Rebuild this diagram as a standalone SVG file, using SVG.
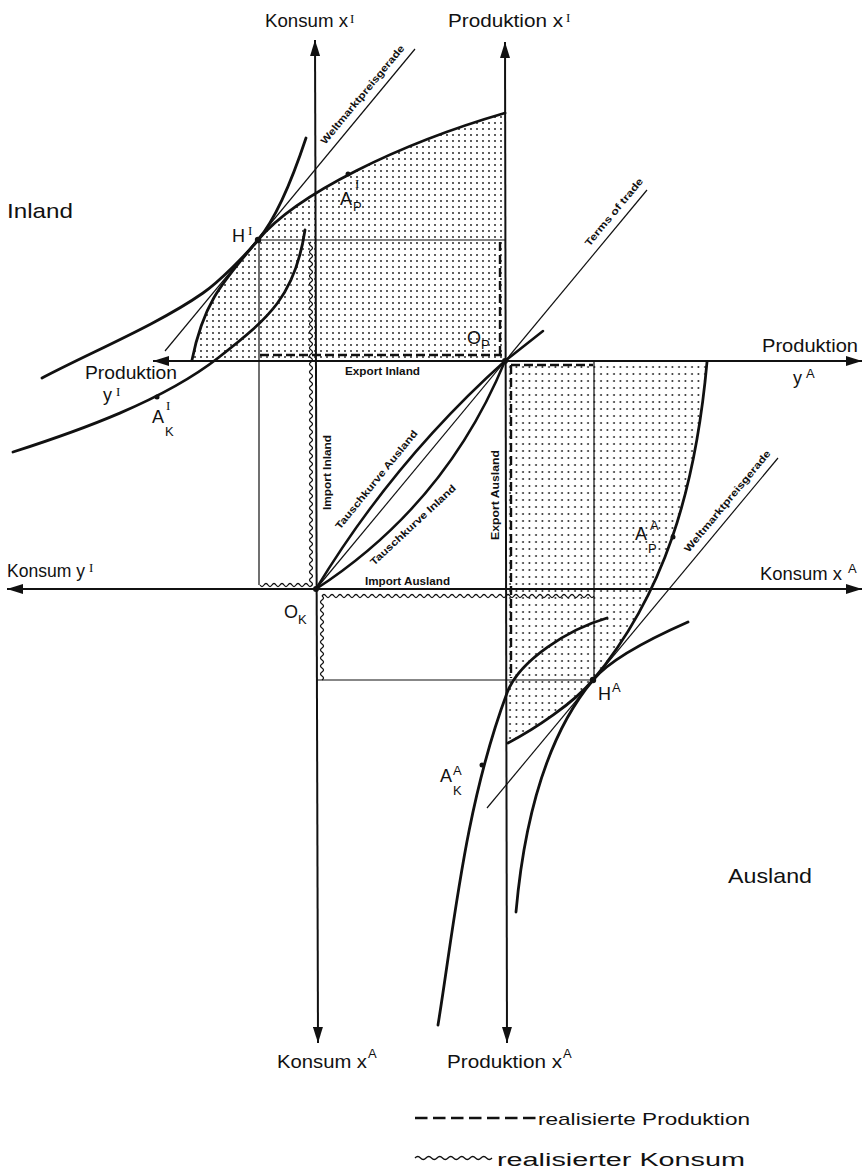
<svg xmlns="http://www.w3.org/2000/svg" width="867" height="1173" viewBox="0 0 867 1173">
<defs>
<style>
.ax{stroke:#111;stroke-width:2;fill:none}
.thick{stroke:#111;stroke-width:2.8;fill:none;stroke-linecap:round}
.tk{stroke:#111;stroke-width:2.5;fill:none;stroke-linecap:round}
.thin{stroke:#111;stroke-width:1.2;fill:none}
.dash{stroke:#111;stroke-width:2.4;fill:none;stroke-dasharray:9 4}
.wave{stroke:#111;stroke-width:1.3;fill:none}
.pt{fill:#111}
text{font-family:"Liberation Sans",Arial,sans-serif;fill:#111}
.lb{font-size:18px}
.big{font-size:21px}
.sup{font-size:13px}
.ser{font-family:"Liberation Serif","Times New Roman",serif}
.sm{font-size:10px;font-weight:bold}
</style>
<pattern id="dotsI" width="6" height="6" patternUnits="userSpaceOnUse"><circle cx="3" cy="3" r="0.9" fill="#111"/></pattern>
<pattern id="dotsA" width="6.5" height="7" patternUnits="userSpaceOnUse"><circle cx="3" cy="3" r="0.9" fill="#111"/></pattern>
<marker id="arr" viewBox="0 0 16 10" refX="16" refY="5" markerWidth="16" markerHeight="10" markerUnits="userSpaceOnUse" orient="auto-start-reverse"><path d="M0,0 L16,5 L0,10 Z" fill="#111"/></marker>
</defs>
<rect width="867" height="1173" fill="#fff"/>

<g id="shading">
<path d="M505,361 L192,361 C203.8,301.2 222.8,282.2 258,240 C296.4,193.9 399.4,143.7 505,113 Z" fill="url(#dotsI)"/>
<path d="M507,362 L707,362 C695.4,491.5 663.4,595.5 593,680 C573.8,703 534.6,729.2 508,743 Z" fill="url(#dotsA)"/>
</g>

<g id="connectors">
<g id="axes">
<path class="ax" d="M153,361 H862" marker-start="url(#arr)" marker-end="url(#arr)"/>
<path class="ax" d="M7,589 H862" marker-start="url(#arr)" marker-end="url(#arr)"/>
<path class="ax" d="M315,40 L318,1043" marker-start="url(#arr)" marker-end="url(#arr)"/>
<path class="ax" d="M505,42 L507,1043" marker-start="url(#arr)" marker-end="url(#arr)"/>
</g>
<g id="helper-lines">
<path class="thin" d="M258,240 H505"/>
<path class="thin" d="M259,240 V585"/>
<path class="thin" d="M594,362 V680"/>
<path class="thin" d="M316,680 H594"/>
<path class="thin" d="M415,49 L165,351"/>
<path class="thin" d="M778,458 L487,808"/>
<path class="thin" d="M316,589 L647,190"/>
</g>
<g id="production-dashed">
<path class="dash" d="M260,355 H502"/>
<path class="dash" d="M500,242 V355"/>
<path class="dash" d="M511,365 H593"/>
<path class="dash" d="M511,365 V678"/>
</g>
<g id="consumption-wavy">
<path class="wave" d="M311,242 q-3,2 0,4 t0,4 0,4 0,4 0,4 0,4 0,4 0,4 0,4 0,4 0,4 0,4 0,4 0,4 0,4 0,4 0,4 0,4 0,4 0,4 0,4 0,4 0,4 0,4 0,4 0,4 0,4 0,4 0,4 0,4 0,4 0,4 0,4 0,4 0,4 0,4 0,4 0,4 0,4 0,4 0,4 0,4 0,4 0,4 0,4 0,4 0,4 0,4 0,4 0,4 0,4 0,4 0,4 0,4 0,4 0,4 0,4 0,4 0,4 0,4 0,4 0,4 0,4 0,4 0,4 0,4 0,4 0,4 0,4 0,4 0,4 0,4 0,4 0,4 0,4 0,4 0,4 0,4 0,4 0,4 0,4 0,4 0,4 0,4 0,4 0,4"/>
<path class="wave" d="M260,585 q2,3 4,0 t4,0 4,0 4,0 4,0 4,0 4,0 4,0 4,0 4,0 4,0 4,0 4,0"/>
<path class="wave" d="M322,596 q2,-3 4,0 t4,0 4,0 4,0 4,0 4,0 4,0 4,0 4,0 4,0 4,0 4,0 4,0 4,0 4,0 4,0 4,0 4,0 4,0 4,0 4,0 4,0 4,0 4,0 4,0 4,0 4,0 4,0 4,0 4,0 4,0 4,0 4,0 4,0 4,0 4,0 4,0 4,0 4,0 4,0 4,0 4,0 4,0 4,0 4,0 4,0 4,0 4,0 4,0 4,0 4,0 4,0 4,0 4,0 4,0 4,0 4,0 4,0 4,0 4,0 4,0 4,0 4,0 4,0 4,0 4,0 4,0 4,0"/>
<path class="wave" d="M322,596 q3,2 0,4 t0,4 0,4 0,4 0,4 0,4 0,4 0,4 0,4 0,4 0,4 0,4 0,4 0,4 0,4 0,4 0,4 0,4 0,4 0,4 0,4"/>
</g>
<g id="curves">
<path id="ppc-inland" class="thick" d="M192,360 C203.8,301.2 222.8,282.2 258,240 C296.4,193.9 399.4,143.7 505,113"/>
<path id="indiff1-inland" class="thick" d="M42,378 C90.6,352.3 158,324.5 203,293 C219.4,281.5 245.2,255.4 258,240 C277.2,217 295,171.2 306,138"/>
<path id="indiff0-inland" class="thick" d="M13,452 C79.6,430.6 162.8,401 218,358 C270.1,317.4 295.2,295.3 305,230"/>
<path id="ppc-ausland" class="thick" d="M707,362 C695.4,491.5 663.4,595.5 593,680 C573.8,703 534.6,729.2 508,743"/>
<path id="indiff1-ausland" class="thick" d="M688,622 C660.5,634.1 612.2,657 593,680 C548.2,733.8 524.7,814.4 516,912"/>
<path id="indiff0-ausland" class="thick" d="M607,618 C568.6,629.2 519.3,660.1 507,693 C465,805.8 454,926.3 438,1025"/>
<path id="tausch-ausland" class="tk" d="M316,589 Q393.5,461 505,361 L543,331"/>
<path id="tausch-inland" class="tk" d="M316,589 Q446,504.4 505,361"/>
</g>
</g>

<g id="points">
<circle class="pt" cx="258" cy="240" r="3.2"/>
<circle class="pt" cx="348" cy="174" r="2.5"/>
<circle class="pt" cx="157" cy="397" r="2.5"/>
<circle class="pt" cx="593" cy="680" r="3.2"/>
<circle class="pt" cx="673" cy="537" r="2.5"/>
<circle class="pt" cx="482" cy="765" r="2.5"/>
<circle class="pt" cx="316" cy="589" r="3"/>
<circle class="pt" cx="505" cy="361" r="3"/>
</g>

<g id="axis-labels">
<text class="lb" x="265" y="27" font-size="17" textLength="83" lengthAdjust="spacingAndGlyphs">Konsum x</text>
<text class="sup ser" x="350" y="23" font-size="14">I</text>
<text class="lb" x="448" y="27" textLength="115" lengthAdjust="spacingAndGlyphs">Produktion x</text>
<text class="sup ser" x="566" y="22" font-size="14">I</text>
<text class="lb" x="762" y="352" textLength="96" lengthAdjust="spacingAndGlyphs">Produktion</text>
<text class="lb" x="793" y="384">y</text>
<text class="sup" x="806" y="378" font-size="14">A</text>
<text class="lb" x="85" y="379" textLength="92" lengthAdjust="spacingAndGlyphs">Produktion</text>
<text class="lb" x="103" y="401">y</text>
<text class="sup ser" x="116" y="396" font-size="14">I</text>
<text class="lb" x="7" y="577" textLength="78" lengthAdjust="spacingAndGlyphs">Konsum y</text>
<text class="sup ser" x="89" y="572" font-size="14">I</text>
<text class="lb" x="760" y="580" textLength="82" lengthAdjust="spacingAndGlyphs">Konsum x</text>
<text class="sup" x="848" y="573" font-size="14">A</text>
<text class="lb" x="277" y="1068" textLength="90" lengthAdjust="spacingAndGlyphs">Konsum x</text>
<text class="sup" x="368" y="1058" font-size="14">A</text>
<text class="lb" x="447" y="1068" textLength="115" lengthAdjust="spacingAndGlyphs">Produktion x</text>
<text class="sup" x="563" y="1058" font-size="14">A</text>
</g>

<g id="region-labels">
<text class="big" x="7" y="218" textLength="66" lengthAdjust="spacingAndGlyphs">Inland</text>
<text class="big" x="728" y="883" textLength="84" lengthAdjust="spacingAndGlyphs">Ausland</text>
</g>

<g id="point-labels">
<text class="lb" x="284" y="618" font-size="17">O</text><text class="sup" x="298" y="624" font-size="14">K</text>
<text class="lb" x="467" y="344" font-size="17">O</text><text class="sup" x="481" y="349" font-size="14">P</text>
<text class="lb" x="232" y="242">H</text><text class="sup ser" x="248" y="235" font-size="14">I</text>
<text class="lb" x="340" y="205">A</text><text class="sup ser" x="355" y="188" font-size="14">I</text><text class="sup" x="353" y="211" font-size="16">P</text>
<text class="lb" x="152" y="423">A</text><text class="sup ser" x="166" y="410" font-size="14">I</text><text class="sup" x="165" y="436" font-size="16">K</text>
<text class="lb" x="598" y="700">H</text><text class="sup" x="612" y="692" font-size="14">A</text>
<text class="lb" x="635" y="540">A</text><text class="sup" x="650" y="530" font-size="14">A</text><text class="sup" x="648" y="553" font-size="16">P</text>
<text class="lb" x="440" y="782">A</text><text class="sup" x="453" y="775" font-size="14">A</text><text class="sup" x="453" y="795" font-size="15">K</text>
</g>

<g id="line-labels">
<text class="sm" x="345" y="375" textLength="75" lengthAdjust="spacingAndGlyphs">Export Inland</text>
<text class="sm" x="365" y="585" textLength="85" lengthAdjust="spacingAndGlyphs">Import Ausland</text>
<text class="sm" transform="translate(331,510) rotate(-90)" textLength="75" lengthAdjust="spacingAndGlyphs">Import Inland</text>
<text class="sm" transform="translate(499,540) rotate(-90)" textLength="90" lengthAdjust="spacingAndGlyphs">Export Ausland</text>
<text class="sm" transform="translate(340,530) rotate(-51)" textLength="124" lengthAdjust="spacingAndGlyphs">Tauschkurve Ausland</text>
<text class="sm" transform="translate(374,566) rotate(-43)" textLength="113" lengthAdjust="spacingAndGlyphs">Tauschkurve Inland</text>
<text class="sm" transform="translate(589.4,246.9) rotate(-50.3)" textLength="85" lengthAdjust="spacingAndGlyphs">Terms of trade</text>
<text class="sm" transform="translate(325.2,144.9) rotate(-50.4)" textLength="125" lengthAdjust="spacingAndGlyphs">Weltmarktpreisgerade</text>
<text class="sm" transform="translate(688.7,552.9) rotate(-50.3)" textLength="129" lengthAdjust="spacingAndGlyphs">Weltmarktpreisgerade</text>
</g>

<g id="legend">
<path stroke="#111" stroke-width="2.5" fill="none" stroke-dasharray="12.5 5.5" d="M415,1118 H537"/>
<text x="538" y="1125" font-size="17" textLength="212" lengthAdjust="spacingAndGlyphs">realisierte Produktion</text>
<path class="wave" stroke-width="1.6" d="M415,1158 q2.75,-3 5.5,0 t5.5,0 5.5,0 5.5,0 5.5,0 5.5,0 5.5,0 5.5,0 5.5,0 5.5,0 5.5,0 5.5,0 5.5,0 5.5,0"/>
<text x="497" y="1166" font-size="18" textLength="248" lengthAdjust="spacingAndGlyphs">realisierter Konsum</text>
</g>
</svg>
